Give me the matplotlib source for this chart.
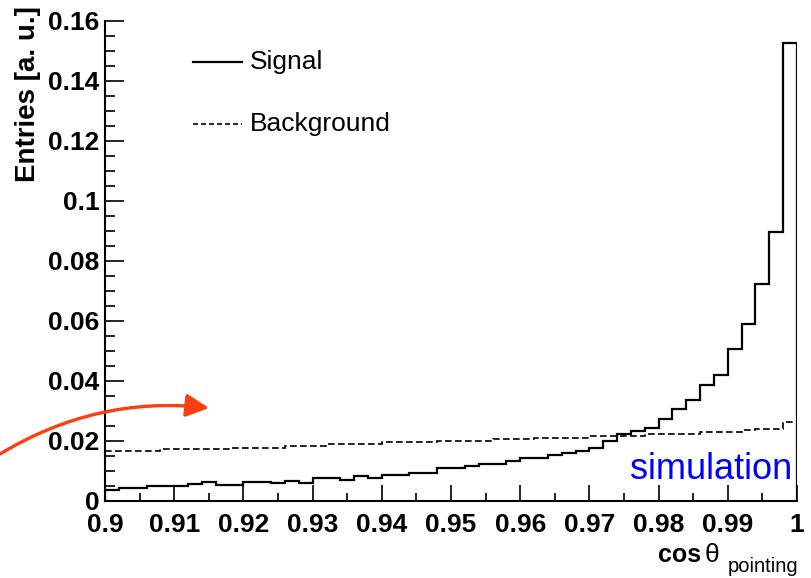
import numpy as np
import matplotlib
matplotlib.use("Agg")
import matplotlib.pyplot as plt
from matplotlib.ticker import MultipleLocator, FuncFormatter

plt.rcParams['font.family'] = ['Liberation Sans', 'DejaVu Sans']

# histogram range / binning (50 bins between 0.9 and 1)
x_min, x_max, n_bins = 0.9, 1.0, 50

# signal, normalised entries per bin
signal = [0.0038, 0.0043, 0.0043, 0.0051, 0.0051, 0.0051, 0.0057, 0.0062, 0.0054, 0.0054,
          0.0062, 0.0062, 0.0060, 0.0067, 0.0060, 0.0076, 0.0076, 0.0071, 0.0082, 0.0076,
          0.0087, 0.0087, 0.0095, 0.0095, 0.0111, 0.0111, 0.0117, 0.0124, 0.0124, 0.0134,
          0.0143, 0.0143, 0.0154, 0.0161, 0.0167, 0.0178, 0.0201, 0.0223, 0.0234, 0.0245,
          0.0274, 0.0307, 0.0337, 0.0388, 0.0419, 0.0506, 0.0591, 0.0722, 0.0897, 0.1528]

# background, normalised entries per bin
background = [0.0166, 0.0166, 0.0166, 0.0166, 0.0173, 0.0173, 0.0173, 0.0173, 0.0173, 0.0177,
              0.0177, 0.0177, 0.0177, 0.0185, 0.0185, 0.0185, 0.0190, 0.0190, 0.0190, 0.0190,
              0.0196, 0.0196, 0.0196, 0.0196, 0.0200, 0.0200, 0.0200, 0.0200, 0.0207, 0.0207,
              0.0207, 0.0211, 0.0211, 0.0211, 0.0211, 0.0218, 0.0218, 0.0218, 0.0218, 0.0223,
              0.0223, 0.0223, 0.0223, 0.0230, 0.0230, 0.0230, 0.0236, 0.0241, 0.0241, 0.0263]

legend_labels = ["Signal", "Background"]

edges = np.linspace(x_min, x_max, n_bins + 1)

fig = plt.figure(figsize=(8.11, 5.78), dpi=100)
ax = fig.add_axes([105 / 811, 77 / 578, 692 / 811, 480 / 578])

ax.stairs(signal, edges, baseline=0, color='black', lw=1.6)
ax.stairs(background, edges, baseline=0, color='black', lw=1.2, linestyle=(0, (4, 2)))

ax.set_xlim(x_min, x_max)
ax.set_ylim(0, 0.16)

for s in ['top', 'right']:
    ax.spines[s].set_visible(False)
for s in ['left', 'bottom']:
    ax.spines[s].set_linewidth(1.5)

ax.xaxis.set_major_locator(MultipleLocator(0.01))
ax.xaxis.set_minor_locator(MultipleLocator(0.005))
ax.yaxis.set_major_locator(MultipleLocator(0.02))
ax.yaxis.set_minor_locator(MultipleLocator(0.005))
fmt = FuncFormatter(lambda v, p: ('%.2f' % v).rstrip('0').rstrip('.') if v != 0 else '0')
ax.xaxis.set_major_formatter(fmt)
ax.yaxis.set_major_formatter(fmt)

ax.tick_params(axis='x', which='major', direction='in', length=11.5, width=1.2, pad=8.5)
ax.tick_params(axis='x', which='minor', direction='in', length=5.8, width=1.2)
ax.tick_params(axis='y', which='major', direction='in', length=13.7, width=1.2, pad=4)
ax.tick_params(axis='y', which='minor', direction='in', length=7, width=1.2)
for lab in ax.get_xticklabels() + ax.get_yticklabels():
    lab.set_fontsize(19)
    lab.set_fontweight('bold')

# y axis title
fig.text(28 / 811, 1 - 6 / 578, "Entries [a. u.]", rotation=90, ha='center', va='top',
         fontsize=20, fontweight='bold')

# x axis title: cos(theta)_pointing
fig.text(701 / 811, 1 - 562 / 578, "cos", ha='right', va='baseline', fontsize=18, fontweight='bold')
fig.text(712 / 811, 1 - 562 / 578, "\u03b8", ha='center', va='baseline', fontsize=19)
fig.text(798 / 811, 1 - 572 / 578, "pointing", ha='right', va='baseline', fontsize=14.5)

# legend
ax.plot([0.127, 0.198], [0.9146, 0.9146], transform=ax.transAxes, color='black', lw=1.6, clip_on=False)
ax.plot([0.127, 0.198], [0.785, 0.785], transform=ax.transAxes, color='black', lw=1.2,
        linestyle=(0, (3, 1.8)), clip_on=False)
ax.text(0.210, 0.9146, legend_labels[0], transform=ax.transAxes, ha='left', va='center', fontsize=19)
ax.text(0.210, 0.785, legend_labels[1], transform=ax.transAxes, ha='left', va='center', fontsize=19)

# simulation tag
fig.text(792 / 811, 1 - 479 / 578, "simulation", ha='right', va='baseline', fontsize=26, color='#0000ff')

# red arrow
ax.annotate("", xy=(209 / 811, 1 - 408 / 578), xycoords='figure fraction',
            xytext=(0, 1 - 454 / 578), textcoords='figure fraction',
            arrowprops=dict(arrowstyle='-|>,head_length=0.7,head_width=0.35', color='#ff3d0d',
                            lw=2.4, mutation_scale=20, shrinkA=0, shrinkB=0,
                            connectionstyle='arc3,rad=-0.17'))

fig.savefig("out.png", dpi=100)
